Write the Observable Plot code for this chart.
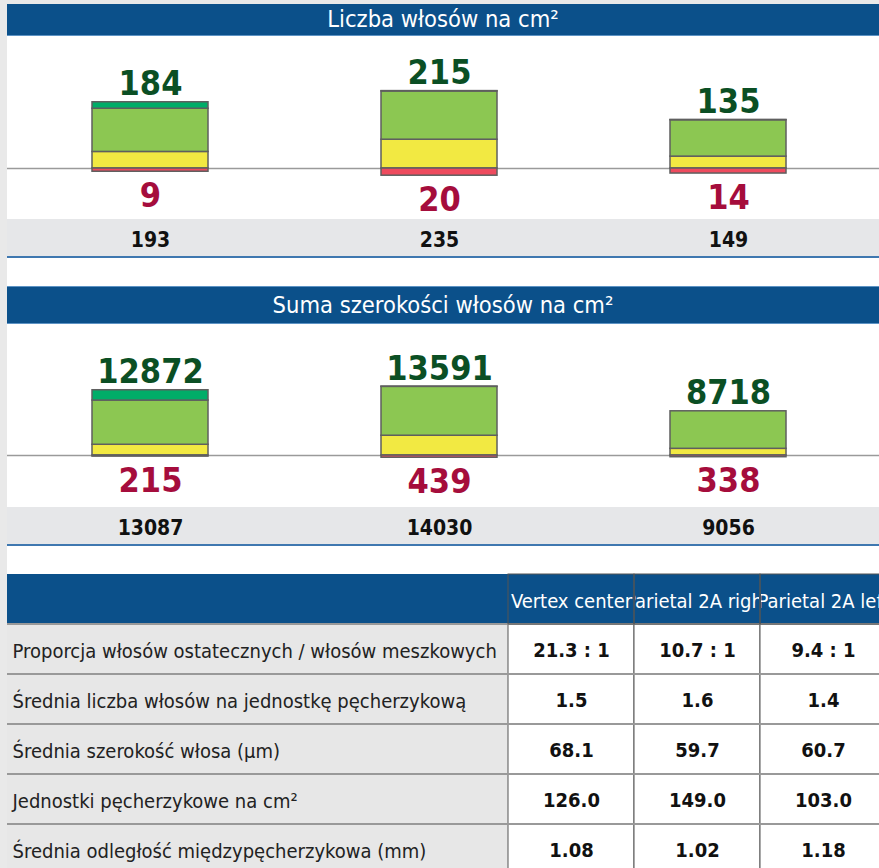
<!DOCTYPE html>
<html><head><meta charset="utf-8">
<script src="https://cdn.jsdelivr.net/npm/d3@7"></script>
<script src="https://cdn.jsdelivr.net/npm/@observablehq/plot@0.6"></script>
<style>
html,body{margin:0;padding:0;width:879px;height:868px;overflow:hidden;background:#e9e9e9;}
#page{position:absolute;left:7px;top:4px;width:872px;height:864px;overflow:hidden;background:#fff;}
.hdr{background:#0b508a;color:#fff;text-align:center;font-family:"DejaVu Sans Condensed","DejaVu Sans",sans-serif;font-stretch:condensed;font-size:23.5px;box-sizing:border-box;}
#h1{height:32px;line-height:31px;border-bottom:1px solid #5d93c4;}
#h2{height:38px;line-height:37px;border-top:1px solid #5d93c4;border-bottom:1px solid #5d93c4;}
.chart{height:220px;border-bottom:2px solid #3f78b0;}
.gap{height:28px;}
svg{display:block;}
</style></head>
<body><div id="page">
<div class="hdr" id="h1">Liczba włosów na cm²</div>
<div class="chart" id="c1"></div>
<div class="gap"></div>
<div class="hdr" id="h2">Suma szerokości włosów na cm²</div>
<div class="chart" id="c2"></div>
<div class="gap"></div>
<div id="t"></div>
</div>
<script>
// ---- data ----
const locations = ["Vertex center", "Parietal 2A right", "Parietal 2A left"];
const seriesNames = ["cienkie", "średnie", "grube", "meszkowe"];
const seriesColors = ["#f2e942", "#8cc752", "#00ad68", "#ee4b5e"];

// Liczba włosów na cm²
const countThick = [18, 1, 1];
const countMedium = [120, 134, 101];
const countThin = [46, 80, 33];
const countVellus = [9, 20, 14];
const countTerminal = [184, 215, 135];
const countTotal = [193, 235, 149];

// Suma szerokości włosów na cm²
const widthThick = [2040, 50, 0];
const widthMedium = [8713, 9640, 7400];
const widthThin = [2119, 3901, 1318];
const widthVellus = [215, 439, 338];
const widthTerminal = [12872, 13591, 8718];
const widthTotal = [13087, 14030, 9056];

// Tabela
const rowLabels = [
  "Proporcja włosów ostatecznych / włosów meszkowych",
  "Średnia liczba włosów na jednostkę pęcherzykową",
  "Średnia szerokość włosa (µm)",
  "Jednostki pęcherzykowe na cm²",
  "Średnia odległość międzypęcherzykowa (mm)"
];
const vertexCenter = ["21.3 : 1", "1.5", "68.1", "126.0", "1.08"];
const parietalRight = ["10.7 : 1", "1.6", "59.7", "149.0", "1.02"];
const parietalLeft = ["9.4 : 1", "1.4", "60.7", "103.0", "1.18"];

// ---- rendering ----
const cond = "DejaVu Sans Condensed, DejaVu Sans, sans-serif";
const bigFont = {fontSize: 34, fontWeight: "bold", fontFamily: cond};

function barChart({thick, medium, thin, vellus, terminal, total, pxPerUnit, base}) {
  const parts = [thin, medium, thick];
  const data = [];
  locations.forEach((loc, i) => {
    parts.forEach((arr, s) => data.push({loc, series: seriesNames[s], value: arr[i]}));
    data.push({loc, series: seriesNames[3], value: -vellus[i]});
  });
  const summary = locations.map((loc, i) => ({loc, terminal: terminal[i], vellus: vellus[i], total: total[i]}));
  const top = d3.max(terminal);
  return Plot.plot({
    width: 872, height: 220, margin: 0,
    style: {background: "linear-gradient(#fff 0 183px, #e6e7e9 183px)", overflow: "visible", maxWidth: "none"},
    x: {domain: locations, range: [85, 779], paddingInner: 0.6, paddingOuter: 0, axis: null},
    y: {domain: [0, top], range: [base, base - top * pxPerUnit], axis: null},
    color: {domain: seriesNames, range: seriesColors},
    marks: [
      Plot.ruleY([0], {stroke: "#9a9a9a", strokeWidth: 1.5}),
      Plot.barY(data, {x: "loc", y: "value", fill: "series", stroke: "#5f5f5f", strokeWidth: 1.5}),
      Plot.text(summary, {x: "loc", y: "terminal", text: d => String(d.terminal), lineAnchor: "bottom", dy: -7, fill: "#0b4f24", ...bigFont}),
      Plot.text(summary, {x: "loc", y: d => -d.vellus, text: d => String(d.vellus), lineAnchor: "top", dy: 11, fill: "#a50d3c", ...bigFont}),
      Plot.text(summary, {x: "loc", text: d => String(d.total), frameAnchor: "bottom", lineAnchor: "middle", dy: -16, fill: "#111", fontSize: 21, fontWeight: "bold", fontFamily: cond})
    ]
  });
}

document.getElementById("c1").append(barChart({
  thick: countThick, medium: countMedium, thin: countThin, vellus: countVellus,
  terminal: countTerminal, total: countTotal, pxPerUnit: 0.36, base: 132
}));
document.getElementById("c2").append(barChart({
  thick: widthThick, medium: widthMedium, thin: widthThin, vellus: widthVellus,
  terminal: widthTerminal, total: widthTotal, pxPerUnit: 0.00507, base: 131
}));

// table
const columns = [vertexCenter, parietalRight, parietalLeft];
const tableRows = ["header", ...rowLabels];
const tableData = [];
rowLabels.forEach((row, j) => locations.forEach((loc, i) => tableData.push({row, loc, value: columns[i][j]})));

const table = Plot.plot({
  width: 879, height: 300, margin: 0,
  style: {maxWidth: "none", overflow: "visible", background: "transparent"},
  x: {domain: locations, range: [501, 879], padding: 0, axis: null},
  y: {domain: tableRows, range: [0, 300], padding: 0, axis: null},
  marks: [
    Plot.cell(rowLabels, {y: d => d, fill: "#e7e7e7", insetLeft: -3}),
    Plot.cell(["header"], {y: d => d, fill: "#0b508a", insetLeft: -3}),
    Plot.cell(tableData, {x: "loc", y: "row", fill: "#fff", stroke: "#555", strokeWidth: 1}),
    Plot.cell(rowLabels, {y: d => d, fill: "none", stroke: "#999", strokeWidth: 2, insetLeft: -3}),
    Plot.cell(locations, {x: d => d, y: () => "header", fill: "none", stroke: "#555", strokeWidth: 1}),
    Plot.text(locations, {x: d => d, y: () => "header", text: d => d, fill: "#fff", fontSize: 20, fontFamily: cond, dy: 2}),
    Plot.text(rowLabels, {y: d => d, text: d => d, frameAnchor: "left", textAnchor: "start", dx: 5, dy: 2, fill: "#222", fontSize: 20, fontFamily: cond}),
    Plot.text(tableData, {x: "loc", y: "row", text: "value", fill: "#111", fontSize: 20, fontWeight: "bold", fontFamily: cond, dy: 1})
  ]
});
document.getElementById("t").append(table);

// clip header labels to their cells (cell bounds from the x/y scales)
const xs = table.scale("x"), ys = table.scale("y");
const defs = d3.select(table).append("defs");
const hdrGroup = table.querySelectorAll('g[aria-label="text"]')[0];
const m = hdrGroup.transform.baseVal.consolidate();
const ox = m ? m.matrix.e : 0, oy = m ? m.matrix.f : 0;
const hdrTexts = Array.from(hdrGroup.querySelectorAll("text"));
hdrTexts.forEach((node, i) => {
  const id = "hclip" + i;
  defs.append("clipPath").attr("id", id).append("rect")
    .attr("x", xs.apply(locations[i]) + 1 - ox).attr("y", ys.apply("header") - oy)
    .attr("width", xs.bandwidth - 2).attr("height", ys.bandwidth);
  const g = d3.select(hdrGroup).append("g").attr("clip-path", `url(#${id})`);
  g.node().appendChild(node);
});
</script>
</body></html>
